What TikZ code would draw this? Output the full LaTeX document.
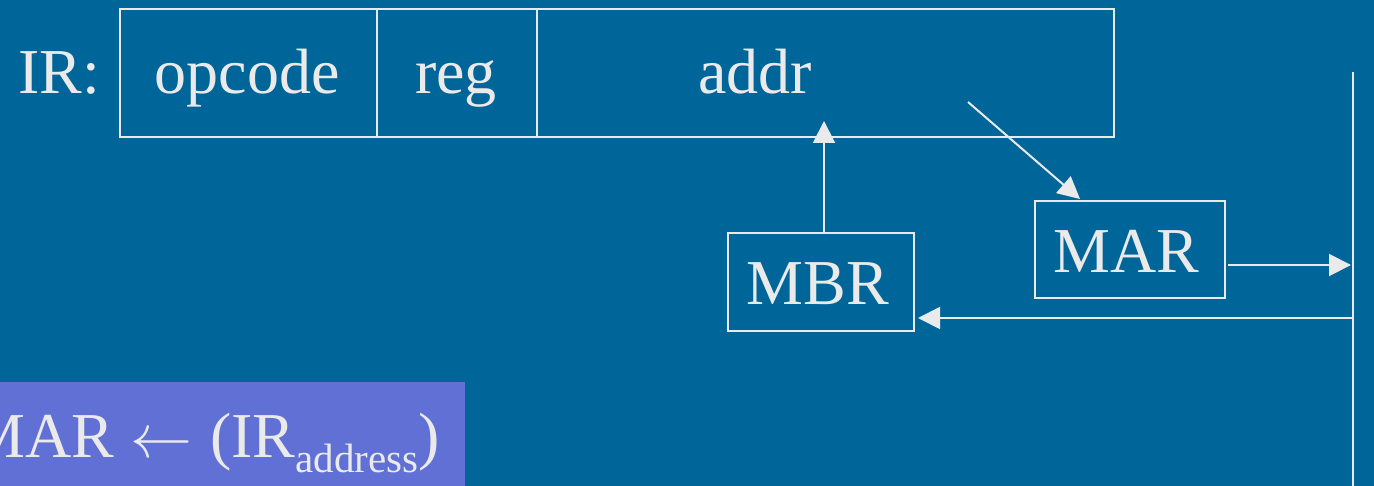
\documentclass[tikz,border=0pt]{standalone}
\usepackage{fontspec}
\setmainfont{Liberation Serif}
\usetikzlibrary{arrows.meta}
\definecolor{bg}{RGB}{0,102,153}
\definecolor{hl}{RGB}{96,112,212}
\definecolor{fg}{RGB}{234,234,234}
\newcommand{\bigleftarrow}{{\fontsize{10}{12}\selectfont\scalebox{6.2}{\(\leftarrow\)}}}
\begin{document}
\begin{tikzpicture}[x=1pt,y=-1pt,
  txt/.style={text=fg, inner sep=0pt, font=\fontsize{64}{70}\selectfont},
  box/.style={draw=fg, line width=2pt, inner sep=0pt, anchor=north west},
  arr/.style={draw=fg, line width=2pt, -{Triangle[length=22pt,width=22pt]}},
  ln/.style={draw=fg, line width=2pt}]
\fill[bg] (0,0) rectangle (1374,486);
\useasboundingbox (0,0) rectangle (1374,486);
\clip (0,0) rectangle (1374,486);
\fill[hl] (0,382) rectangle (465,486);
% IR fields
\node[box, minimum width=257pt, minimum height=128pt] (fop) at (119,8) {};
\node[box, minimum width=160pt, minimum height=128pt] (freg) at (376,8) {};
\node[box, minimum width=577pt, minimum height=128pt] (faddr) at (536,8) {};
% registers
\node[box, minimum width=186pt, minimum height=98pt] (mbr) at (727,232) {};
\node[box, minimum width=190pt, minimum height=97pt] (mar) at (1034,200) {};
% texts
\node[txt, anchor=base west] (irlbl) at (18,94) {IR:};
\node[txt, anchor=base] (topc) at (247,94) {opcode};
\node[txt, anchor=base] (treg) at (456,94) {reg};
\node[txt, anchor=base] (taddr) at (755,94) {addr};
\node[txt, anchor=base] (tmbr) at (818,305) {MBR};
\node[txt, anchor=base] (tmar) at (1126,273) {MAR};
\node[txt, anchor=base east] (eq) at (440,457) {MAR\hspace{16pt}\bigleftarrow\hspace{18pt}(IR{\fontsize{41}{41}\selectfont\raisebox{-15pt}{address}})};
% bus and connector points
\coordinate (bustop) at (1353,72);
\coordinate (busbot) at (1353,486);
\coordinate (addrin) at (824,121);
\coordinate (addrout) at (968,102);
\coordinate (marout) at (1228,265);
\coordinate (busin) at (1351,265);
\coordinate (busout) at (1353,318);
\coordinate (mbrin) at (918,318);
\draw[ln] (bustop) -- (busbot);
\draw[arr] (mbr.north -| addrin) -- (addrin);
\draw[arr] (addrout) -- (1080,199);
\draw[arr] (marout) -- (busin);
\draw[arr] (busout) -- (mbrin);
\end{tikzpicture}
\end{document}
